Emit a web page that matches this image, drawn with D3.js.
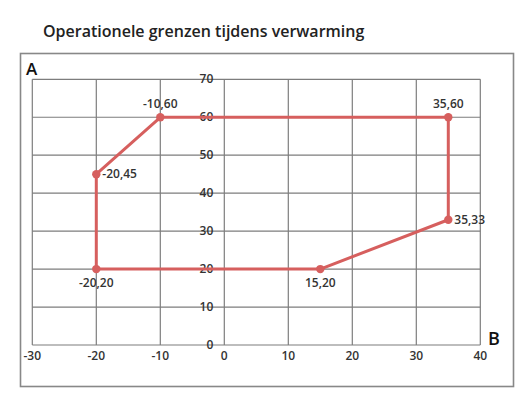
<!DOCTYPE html>
<html>
<head>
<meta charset="utf-8">
<script src="https://cdn.jsdelivr.net/npm/d3@7"></script>
<style>
    body { margin: 0; background: #fff; }
    svg { display: block; font-family: "Open Sans", sans-serif; }
</style>
</head>
<body>
<div id="chart"></div>
<script>
// Operating envelope polygon (outdoor temp, water temp)
var pointX = [-20, -20, -10, 35, 35, 15];
var pointY = [20, 45, 60, 60, 33, 20];
var pointLabels = ['-20,20', '-20,45', '-10,60', '35,60', '35,33', '15,20'];
var labelPos = ['below', 'right', 'above', 'above', 'right', 'below'];

var xTicks = [-30, -20, -10, 0, 10, 20, 30, 40];
var yTicks = [0, 10, 20, 30, 40, 50, 60, 70];

var title = 'Operationele grenzen tijdens verwarming';

var width = 524;
var height = 401;
var red = '#d65f5e';
var gridColor = '#7d7d7d';

var svg = d3.select('#chart').append('svg')
    .attr('width', width)
    .attr('height', height);

svg.append('text')
    .attr('x', 43)
    .attr('y', 37)
    .attr('font-size', 16)
    .attr('font-weight', 600)
    .attr('fill', '#222')
    .text(title);

// outer frame
svg.append('rect')
    .attr('x', 20.5)
    .attr('y', 53.5)
    .attr('width', 493)
    .attr('height', 333)
    .attr('fill', 'none')
    .attr('stroke', '#888')
    .attr('stroke-width', 1.6);

var x = d3.scaleLinear().domain([-30, 40]).range([32.3, 480.3]);
var y = d3.scaleLinear().domain([0, 70]).range([345, 79.3]);

// grid
var grid = svg.append('g').attr('class', 'grid');
grid.selectAll('line.v')
    .data(xTicks)
  .enter().append('line')
    .attr('class', 'v')
    .attr('x1', function (d) { return x(d); })
    .attr('x2', function (d) { return x(d); })
    .attr('y1', y(0))
    .attr('y2', y(70))
    .attr('stroke', gridColor)
    .attr('stroke-width', 1.2);

grid.selectAll('line.h')
    .data(yTicks)
  .enter().append('line')
    .attr('class', 'h')
    .attr('x1', x(-30))
    .attr('x2', x(40))
    .attr('y1', function (d) { return y(d); })
    .attr('y2', function (d) { return y(d); })
    .attr('stroke', gridColor)
    .attr('stroke-width', 1.2);

// x tick labels under the bottom line
svg.append('g').selectAll('text')
    .data(xTicks)
  .enter().append('text')
    .attr('x', function (d) { return x(d); })
    .attr('y', y(0) + 15)
    .attr('text-anchor', 'middle')
    .attr('font-size', 12)
    .attr('font-weight', 600)
    .attr('fill', '#333')
    .text(function (d) { return d; });

// y tick labels next to the zero line
svg.append('g').selectAll('text')
    .data(yTicks)
  .enter().append('text')
    .attr('x', x(0) - 11)
    .attr('y', function (d) { return y(d) + 4; })
    .attr('text-anchor', 'end')
    .attr('font-size', 12)
    .attr('font-weight', 600)
    .attr('fill', '#333')
    .text(function (d) { return d; });

svg.append('text')
    .attr('x', 26)
    .attr('y', 75)
    .attr('font-size', 17)
    .attr('font-weight', 600)
    .attr('fill', '#111')
    .text('A');

svg.append('text')
    .attr('x', 488)
    .attr('y', 345)
    .attr('font-size', 18)
    .attr('font-weight', 600)
    .attr('fill', '#111')
    .text('B');

// envelope
var points = pointX.map(function (d, i) {
    return {x: d, y: pointY[i], label: pointLabels[i], pos: labelPos[i]};
});

var line = d3.line()
    .x(function (d) { return x(d.x); })
    .y(function (d) { return y(d.y); })
    .curve(d3.curveLinearClosed);

svg.append('path')
    .datum(points)
    .attr('d', line)
    .attr('fill', 'none')
    .attr('stroke', red)
    .attr('stroke-width', 3)
    .attr('stroke-linejoin', 'round');

svg.append('g').selectAll('circle')
    .data(points)
  .enter().append('circle')
    .attr('cx', function (d) { return x(d.x); })
    .attr('cy', function (d) { return y(d.y); })
    .attr('r', 4.2)
    .attr('fill', red);

svg.append('g').selectAll('text')
    .data(points)
  .enter().append('text')
    .attr('x', function (d) {
        return d.pos == 'right' ? x(d.x) + 6 : x(d.x);
    })
    .attr('y', function (d) {
        if (d.pos == 'above') return y(d.y) - 9;
        if (d.pos == 'below') return y(d.y) + 18;
        return y(d.y) + 4;
    })
    .attr('text-anchor', function (d) { return d.pos == 'right' ? 'start' : 'middle'; })
    .attr('font-size', 12)
    .attr('font-weight', 600)
    .attr('fill', '#333')
    .text(function (d) { return d.label; });
</script>
</body>
</html>
